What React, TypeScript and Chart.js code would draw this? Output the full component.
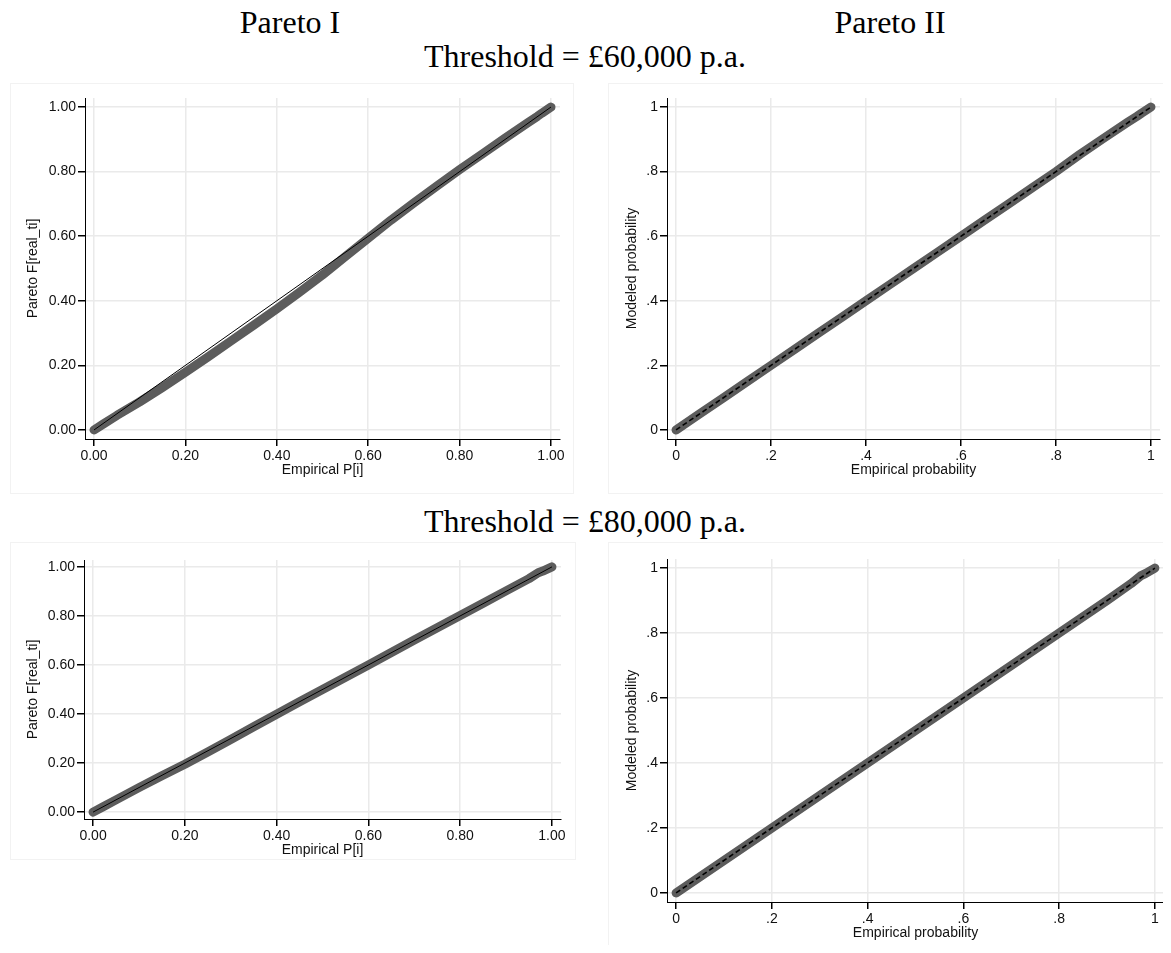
import { useEffect, useRef } from "react";
import { Chart, registerables } from "chart.js";

Chart.register(...registerables);

// ---------------- data ----------------
const EMPIRICAL = [0, 0.02, 0.05, 0.1, 0.15, 0.2, 0.25, 0.3, 0.35, 0.4, 0.45, 0.5, 0.55, 0.6, 0.65, 0.7, 0.75, 0.8, 0.85, 0.9, 0.95, 0.97, 0.98, 1];
const PARETO1_60K = [0, 0.018, 0.045, 0.087, 0.132, 0.179, 0.227, 0.276, 0.325, 0.375, 0.427, 0.48, 0.537, 0.594, 0.65, 0.703, 0.755, 0.806, 0.855, 0.904, 0.952, 0.971, 0.981, 1];
const PARETO2_60K = [0, 0.02, 0.05, 0.1, 0.15, 0.2, 0.25, 0.3, 0.35, 0.4, 0.45, 0.5, 0.55, 0.6, 0.65, 0.7, 0.75, 0.8, 0.853, 0.903, 0.952, 0.971, 0.981, 1];
const PARETO1_80K = [0, 0.02, 0.05, 0.1, 0.148, 0.195, 0.245, 0.296, 0.348, 0.399, 0.45, 0.5, 0.55, 0.6, 0.651, 0.702, 0.752, 0.802, 0.852, 0.902, 0.952, 0.976, 0.983, 1];
const PARETO2_80K = [0, 0.02, 0.05, 0.1, 0.15, 0.2, 0.25, 0.3, 0.35, 0.4, 0.45, 0.5, 0.55, 0.6, 0.65, 0.7, 0.75, 0.8, 0.85, 0.9, 0.952, 0.976, 0.983, 1];
const DIAGONAL = [0, 1];
const TICK_VALUES = [0, 0.2, 0.4, 0.6, 0.8, 1];
const PARETO1_TICK_LABELS = ["0.00", "0.20", "0.40", "0.60", "0.80", "1.00"];
const PARETO2_TICK_LABELS = ["0", ".2", ".4", ".6", ".8", "1"];

const COLUMN_TITLES = ["Pareto I", "Pareto II"];
const ROW_TITLES = ["Threshold = £60,000 p.a.", "Threshold = £80,000 p.a."];

const SANS = "'Liberation Sans', Arial, sans-serif";
const SERIF = "'Liberation Serif', 'Times New Roman', serif";

type PanelProps = {
  left: number;
  top: number;
  width: number;
  height: number;
  yw: number;
  xh: number;
  pt: number;
  pr: number;
  pb: number;
  xpad: number;
  ypad: number;
  ytitlePad: number;
  values: number[];
  tickLabels: string[];
  xTitle: string;
  yTitle: string;
  dashed: boolean;
};

function Panel(p: PanelProps) {
  const ref = useRef<HTMLCanvasElement | null>(null);
  useEffect(() => {
    if (!ref.current) return;
    const fmt = (v: number) => {
      const i = TICK_VALUES.findIndex((t) => Math.abs(t - v) < 1e-6);
      return i >= 0 ? p.tickLabels[i] : "";
    };
    const setTicks = (scale: any) => {
      scale.ticks = TICK_VALUES.map((v) => ({ value: v }));
    };
    const chart = new Chart(ref.current, {
      type: "line",
      data: {
        datasets: [
          {
            label: "ref",
            data: DIAGONAL.map((v) => ({ x: v, y: v })),
            borderColor: "#000000",
            borderWidth: p.dashed ? 1.6 : 1,
            borderDash: p.dashed ? [5, 3] : [],
            pointRadius: 0,
            order: 0,
          },
          {
            label: "data",
            data: EMPIRICAL.map((x, i) => ({ x, y: p.values[i] })),
            borderColor: "#5c5c5c",
            borderWidth: 9,
            borderCapStyle: "round",
            borderJoinStyle: "round",
            pointRadius: 0,
            tension: 0,
            order: 1,
          },
        ],
      },
      options: {
        animation: false,
        responsive: false,
        events: [],
        layout: { padding: { top: p.pt, right: p.pr, bottom: p.pb, left: 0 } },
        plugins: { legend: { display: false }, tooltip: { enabled: false } },
        scales: {
          x: {
            type: "linear",
            min: -p.xpad,
            max: 1 + p.xpad,
            afterBuildTicks: setTicks,
            afterFit: (s: any) => {
              s.height = p.xh;
            },
            border: { display: true, color: "#000000", width: 1 },
            grid: { color: "#eaeaea", lineWidth: 1.5, tickColor: "#000000", tickLength: 7, drawTicks: true },
            ticks: { color: "#111111", font: { family: SANS, size: 14 }, padding: 2, callback: (v: any) => fmt(Number(v)), maxRotation: 0, autoSkip: false },
            title: { display: true, text: p.xTitle, color: "#111111", font: { family: SANS, size: 14 }, padding: { top: 0, bottom: 0 } },
          },
          y: {
            type: "linear",
            min: -p.ypad,
            max: 1 + p.ypad,
            afterBuildTicks: setTicks,
            afterFit: (s: any) => {
              s.width = p.yw;
            },
            border: { display: true, color: "#000000", width: 1 },
            grid: { color: "#eaeaea", lineWidth: 1.5, tickColor: "#000000", tickLength: 7, drawTicks: true },
            ticks: { color: "#111111", font: { family: SANS, size: 14 }, padding: 2, callback: (v: any) => fmt(Number(v)), autoSkip: false },
            title: { display: true, text: p.yTitle, color: "#111111", font: { family: SANS, size: 14 }, padding: { top: p.ytitlePad, bottom: 0 } },
          },
        },
      },
    });
    return () => chart.destroy();
  }, []);
  return (
    <div
      style={{
        position: "absolute",
        left: p.left,
        top: p.top,
        width: p.width,
        height: p.height,
        boxSizing: "border-box",
        border: "1px solid #f2f2f2",
      }}
    >
      <canvas ref={ref} width={p.width - 2} height={p.height - 2} style={{ display: "block" }} />
    </div>
  );
}

const textStyle = (left: number, top: number): React.CSSProperties => ({
  position: "absolute",
  left,
  top,
  transform: "translate(-50%, -50%)",
  fontFamily: SERIF,
  fontSize: 32,
  color: "#000",
  whiteSpace: "nowrap",
  lineHeight: 1,
});

export default function App() {
  return (
    <div style={{ position: "relative", width: 1171, height: 953, margin: -8, background: "#fff", overflow: "hidden" }}>
      <div style={textStyle(290, 22)}>{COLUMN_TITLES[0]}</div>
      <div style={textStyle(890, 22)}>{COLUMN_TITLES[1]}</div>
      <div style={textStyle(585, 56)}>{ROW_TITLES[0]}</div>
      <div style={textStyle(585, 521)}>{ROW_TITLES[1]}</div>
      <Panel left={10} top={83} width={564} height={411} yw={74} xh={40} pt={14} pr={13} pb={14} xpad={0.0197} ypad={0.028} ytitlePad={14} values={PARETO1_60K} tickLabels={PARETO1_TICK_LABELS} xTitle="Empirical P[i]" yTitle="Pareto F[real_ti]" dashed={false} />
      <Panel left={608} top={83} width={563} height={411} yw={58} xh={40} pt={14} pr={10} pb={14} xpad={0.019} ypad={0.028} ytitlePad={15} values={PARETO2_60K} tickLabels={PARETO2_TICK_LABELS} xTitle="Empirical probability" yTitle="Modeled probability" dashed={true} />
      <Panel left={10} top={542} width={566} height={318} yw={73} xh={40} pt={17} pr={14} pb={0} xpad={0.0197} ypad={0.028} ytitlePad={14} values={PARETO1_80K} tickLabels={PARETO1_TICK_LABELS} xTitle="Empirical P[i]" yTitle="Pareto F[real_ti]" dashed={false} />
      <Panel left={608} top={542} width={563} height={420} yw={58} xh={40} pt={16} pr={6} pb={19} xpad={0.019} ypad={0.028} ytitlePad={15} values={PARETO2_80K} tickLabels={PARETO2_TICK_LABELS} xTitle="Empirical probability" yTitle="Modeled probability" dashed={true} />
    </div>
  );
}
